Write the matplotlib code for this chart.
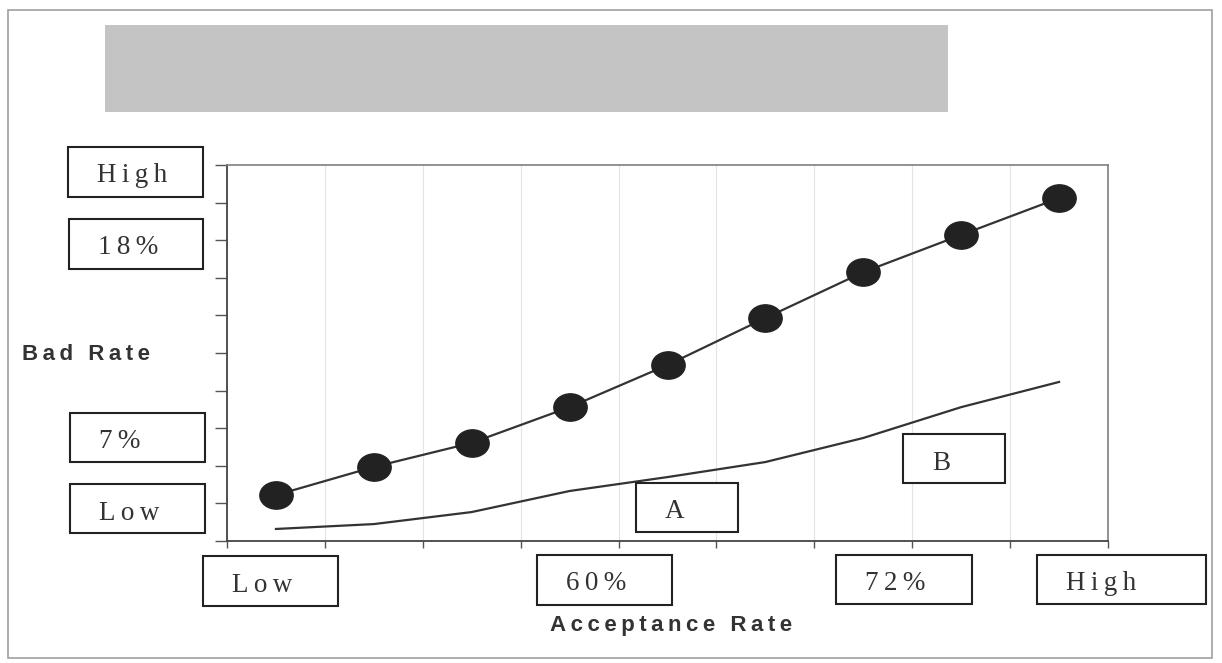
import numpy as np
import matplotlib
matplotlib.use("Agg")
import matplotlib.pyplot as plt
from matplotlib.patches import Rectangle
from matplotlib.path import Path

# ---- data (y in tick units 0..10) ----
bands = np.arange(9)
upper_curve = [1.22, 1.97, 2.61, 3.56, 4.68, 5.93, 7.15, 8.14, 9.12]
lower_curve = [0.32, 0.45, 0.77, 1.33, 1.70, 2.10, 2.74, 3.56, 4.23]

y_box_labels = ["High", "18%", "7%", "Low"]
x_box_labels = ["Low", "60%", "72%", "High"]
curve_labels = ["A", "B"]

# ---- layout (pixel boxes: x0, y0, x1, y1) ----
W, H = 1222, 663
y_boxes = [(68, 147, 203, 197), (69, 219, 203, 269), (70, 413, 205, 462), (70, 484, 205, 533)]
x_boxes = [(203, 556, 338, 606), (537, 555, 672, 605), (836, 555, 972, 604), (1037, 555, 1206, 604)]
curve_boxes = [(636, 483, 738, 532), (903, 434, 1005, 483)]

TS = "\u2009"  # thin space, the scan has letter-spaced text
serif = ["Liberation Serif", "DejaVu Serif"]
sans = ["Liberation Sans", "DejaVu Sans"]


def spaced(s):
    # letter-space each word, keep a wider gap between words
    return (TS + " " + TS).join(TS.join(w) for w in s.split())


def fx(x):
    return x / W


def fy(y):
    return 1 - y / H


fig = plt.figure(figsize=(12.22, 6.63), dpi=100)

# scan frame and the grey title strip
fig.add_artist(Rectangle((fx(8), fy(658)), fx(1212 - 8), (658 - 10) / H, transform=fig.transFigure,
                         fill=False, ec="#a0a0a0", lw=1.2))
fig.add_artist(Rectangle((fx(105), fy(112)), fx(948 - 105), (112 - 25) / H, transform=fig.transFigure,
                         fc="#c4c4c4", ec="none"))

ax = fig.add_axes([fx(227), fy(541), fx(1108 - 227), (541 - 165) / H])

circ = Path.unit_circle()
oval = Path(circ.vertices * np.array([1.0, 0.82]), circ.codes)

ax.plot(bands, upper_curve, color="#333333", lw=1.6, marker=oval, markersize=24,
        markerfacecolor="#222222", markeredgecolor="#222222", zorder=3)
ax.plot(bands, lower_curve, color="#333333", lw=1.6, zorder=3)

ax.set_xlim(-0.5, 8.5)
ax.set_ylim(0, 10)
ax.set_xticks(np.arange(-0.5, 9, 1))
ax.set_yticks(np.arange(0, 11, 1))
ax.set_xticklabels([])
ax.set_yticklabels([])
ax.tick_params(axis="y", direction="out", length=8.6, width=1, color="#555555")
ax.tick_params(axis="x", direction="out", length=5, width=1, color="#555555")
ax.xaxis.grid(True, color="#e4e4e4", lw=0.8)
ax.set_axisbelow(True)
for side in ["left", "bottom"]:
    ax.spines[side].set_color("#444444")
    ax.spines[side].set_linewidth(1.3)
for side in ["top", "right"]:
    ax.spines[side].set_color("#808080")
    ax.spines[side].set_linewidth(1.2)


def box(b, label):
    x0, y0, x1, y1 = b
    fig.add_artist(Rectangle((fx(x0), fy(y1)), fx(x1 - x0), (y1 - y0) / H, transform=fig.transFigure,
                             fc="white", ec="#222222", lw=1.5, zorder=5))
    fig.text(fx(x0 + 29), fy(y0 + 35.5), spaced(label), family=serif, fontsize=19.5,
             color="#333333", ha="left", va="baseline", zorder=6)


for b, lab in zip(y_boxes, y_box_labels):
    box(b, lab)
for b, lab in zip(x_boxes, x_box_labels):
    box(b, lab)
for b, lab in zip(curve_boxes, curve_labels):
    box(b, lab)

fig.text(fx(22), fy(360), spaced("Bad Rate"), family=sans,
         fontsize=16, fontweight="bold", color="#333333", ha="left", va="baseline")
fig.text(fx(550), fy(631), spaced("Acceptance Rate"), family=sans,
         fontsize=16, fontweight="bold", color="#333333", ha="left", va="baseline")

fig.savefig("out.png", dpi=100)
